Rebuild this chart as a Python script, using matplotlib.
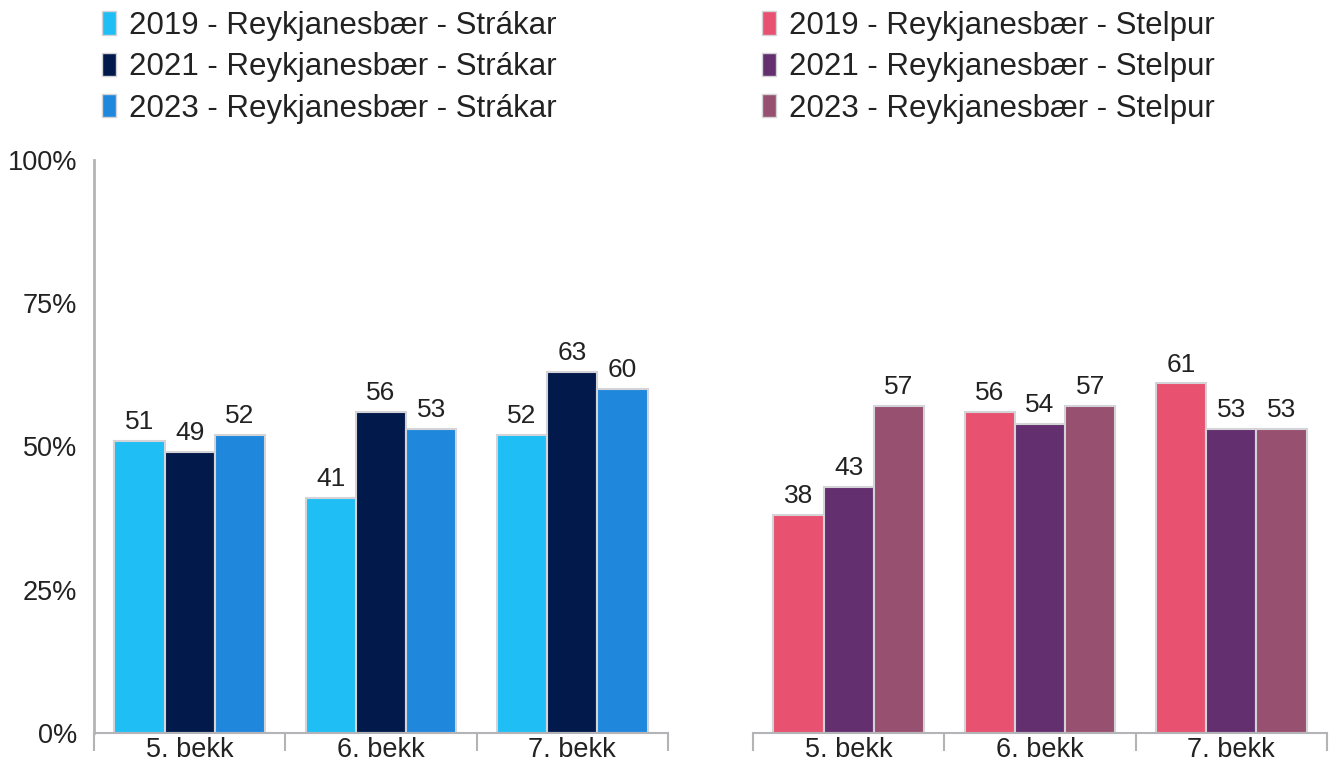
import matplotlib.pyplot as plt
import numpy as np
from matplotlib.patches import Patch

plt.rcParams['font.family'] = ['Liberation Sans', 'DejaVu Sans']

# data
grades = ["5. bekk", "6. bekk", "7. bekk"]
years = ["2019", "2021", "2023"]
boys = [[51, 41, 52],   # 2019
        [49, 56, 63],   # 2021
        [52, 53, 60]]   # 2023
girls = [[38, 56, 61],
         [43, 54, 53],
         [57, 57, 53]]
boys_colors = ["#1fbff5", "#021a4b", "#1f88dc"]
girls_colors = ["#e8516f", "#632f6e", "#97506f"]
yticks = [0, 25, 50, 75, 100]

W, H = 1335, 762
fig = plt.figure(figsize=(W / 100, H / 100), dpi=100)
ax1 = fig.add_axes([94 / W, 1 - 733 / H, 574 / W, 573 / H])
ax2 = fig.add_axes([753 / W, 1 - 733 / H, 574 / W, 573 / H])

grey = "#b4b4b8"
txt = "#222222"
x = np.arange(len(grades))
bw = 0.263


def draw(ax, data, colors, group):
    for i, (vals, c) in enumerate(zip(data, colors)):
        pos = x + (i - 1) * bw
        bars = ax.bar(pos, vals, width=bw, color=c, edgecolor="#d4d4d8", linewidth=1.5,
                      label=f"{years[i]} - Reykjanesbær - {group}")
        for b, v in zip(bars, vals):
            ax.annotate(str(v), (b.get_x() + b.get_width() / 2, v), xytext=(0, 5),
                        textcoords="offset points", ha="center", va="bottom",
                        fontsize=19, color=txt)
    ax.set_xlim(-0.5, 2.5)
    ax.set_ylim(0, 100)
    ax.set_xticks(x)
    ax.set_xticklabels(grades, fontsize=19.5, color=txt)
    ax.tick_params(axis="x", which="major", length=0, pad=3)
    ax.set_xticks([-0.5, 0.5, 1.5, 2.5], minor=True)
    ax.tick_params(axis="x", which="minor", length=13, width=1.5, color=grey)
    for s in ["top", "right"]:
        ax.spines[s].set_visible(False)
    ax.spines["bottom"].set_color(grey)
    ax.spines["bottom"].set_linewidth(1.5)
    ax.spines["left"].set_color(grey)
    ax.spines["left"].set_linewidth(2)


draw(ax1, boys, boys_colors, "Strákar")
draw(ax2, girls, girls_colors, "Stelpur")

ax1.set_yticks(yticks)
ax1.set_yticklabels([f"{t}%" for t in yticks], fontsize=19.5, color=txt)
ax1.tick_params(axis="y", length=0, pad=12)
ax2.spines["left"].set_visible(False)
ax2.set_yticks([])


def legend(ax, colors, group, xpos):
    handles = [Patch(facecolor=c, edgecolor="#d4d4d8", label=f"{y} - Reykjanesbær - {group}")
               for y, c in zip(years, colors)]
    fig.legend(handles=handles, loc="upper left", bbox_to_anchor=(xpos / W, 1 - 11 / H),
               frameon=False, fontsize=22.5, handlelength=0.45, handleheight=0.77,
               handletextpad=0.4, labelspacing=0.36, borderpad=0, borderaxespad=0,
               labelcolor=txt)


legend(ax1, boys_colors, "Strákar", 102)
legend(ax2, girls_colors, "Stelpur", 762)

fig.savefig("out.png", dpi=100)
